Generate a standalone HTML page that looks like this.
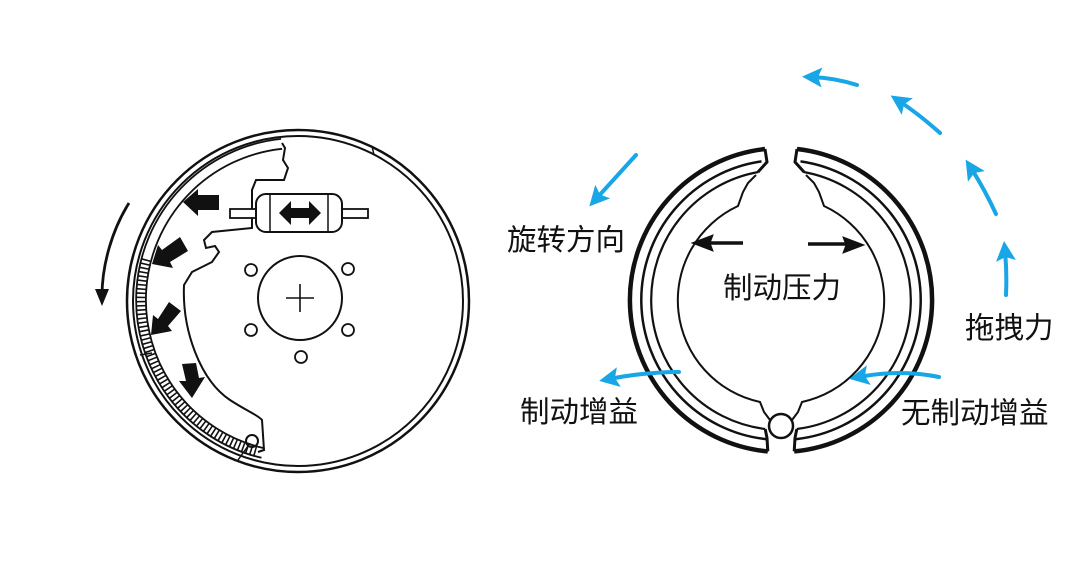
<!DOCTYPE html>
<html><head><meta charset="utf-8"><style>
html,body{margin:0;padding:0;background:#fff;}
svg{display:block;}
text{font-family:"Liberation Sans","Noto Sans CJK SC",sans-serif;font-size:29.5px;fill:#111;}
</style></head><body>
<svg width="1080" height="572" viewBox="0 0 1080 572" xmlns="http://www.w3.org/2000/svg">
<defs>
<marker id="bh" viewBox="0 0 10 10" refX="5" refY="5" markerWidth="5" markerHeight="5" orient="auto"><path d="M0,0 L10,5 L0,10 L2,5 z" fill="#18a6e6"/></marker>
</defs>
<g fill="none" stroke="#111">
<circle cx="298" cy="301" r="171" stroke-width="2.5"/>
<circle cx="298" cy="301" r="165" stroke-width="2"/>
<line x1="372" y1="146" x2="374" y2="155" stroke-width="1.5"/>
<path d="M281.1,138.9 A162 162 0 0 0 261.5,457.8" stroke-width="1.8"/>
<path d="M282.1,148.8 A152 152 0 0 0 263.8,448.1" stroke-width="1.8"/>
<path d="M146.3,259.3 A157 157 0 0 0 257.3,451.7" stroke-width="9" stroke-dasharray="1.6 2.6"/>
<line x1="140" y1="355" x2="152" y2="353" stroke-width="1.5"/>
<path d="M282,143 L285,148 L283,160 L288,168 L284,180 L256,180 L252,190 L252,228 L212,232 L204,240 L206,248 L215,246 L219,252 L212,262 L192,272 L184,285 C182,330 200,380 230,400 C245,410 258,415 262,420 L264,450 L258,452" stroke-width="2"/>
<circle cx="252" cy="441" r="6" stroke-width="2"/>
<line x1="248" y1="446" x2="238" y2="460" stroke-width="1.5"/>
<circle cx="300" cy="298" r="42" stroke-width="2"/>
<line x1="300" y1="284" x2="300" y2="312" stroke-width="1.6"/>
<line x1="286" y1="298" x2="314" y2="298" stroke-width="1.6"/>
<circle cx="251" cy="270" r="6" stroke-width="1.8"/>
<circle cx="348" cy="269" r="6" stroke-width="1.8"/>
<circle cx="251" cy="330" r="6" stroke-width="1.8"/>
<circle cx="348" cy="330" r="6" stroke-width="1.8"/>
<circle cx="301" cy="357" r="6" stroke-width="1.8"/>
<rect x="230" y="209" width="32" height="9" fill="#fff" stroke-width="1.8"/>
<rect x="334" y="209" width="34" height="9" fill="#fff" stroke-width="1.8"/>
<rect x="256" y="194" width="86" height="38" rx="10" fill="#fff" stroke-width="2"/>
<line x1="270" y1="195" x2="270" y2="231" stroke-width="1.5"/>
<line x1="328" y1="195" x2="328" y2="231" stroke-width="1.5"/>
<path d="M129,203 C112,230 102,265 102,296" stroke-width="2.8"/>
</g>
<g fill="#111">
<polygon points="279,213 291,201 291,208 309,208 309,201 321,213 309,225 309,218 291,218 291,225"/>
<polygon points="95,289 109,289 102,306"/>
<polygon points="183,202 198,189 198,195 219,195 219,210 198,210 198,216"/>
<polygon points="152,264 158,245 162,250 180,237 188,251 170,262 173,268"/>
<polygon points="151,335 153,315 158,319 169,302 181,311 168,326 172,331"/>
<polygon points="192,398 179,381 186,381 182,364 196,363 199,378 205,377"/>
</g>
<g id="shoe" fill="none" stroke="#111">
<path d="M765,149 A152 152 0 0 0 767.8,451.4" stroke-width="4.5"/>
<path d="M761.5,161.4 A140 140 0 0 0 766.4,439.2" stroke-width="2.5"/>
<path d="M758.4,172 A130 130 0 0 0 765.2,429" stroke-width="2.2"/>
<path d="M765,149 L767,162 L758,172" stroke-width="3"/>
<path d="M767.8,451.4 L767,438 L765.2,429" stroke-width="3"/>
<path d="M756,175 L748,183 L743,192 L738,206 A104 104 0 0 0 760,402 L764,412 L770,420" stroke-width="2"/>
</g>
<use href="#shoe" transform="translate(1562,0) scale(-1,1)"/>
<circle cx="781" cy="426" r="12" fill="#fff" stroke="#111" stroke-width="2.5"/>
<g stroke="#111" stroke-width="3.5" fill="#111">
<line x1="743" y1="243" x2="705" y2="243"/>
<line x1="808" y1="244" x2="850" y2="244"/>
<polygon points="692,243 713,235 710,243 713,251" stroke-width="1"/>
<polygon points="864,245 843,237 846,245 843,253" stroke-width="1"/>
</g>
<g stroke="#18a6e6" stroke-width="4" fill="none" stroke-linecap="round" marker-end="url(#bh)">
<path d="M636,155 Q615,178 596,199"/>
<path d="M857,85 Q835,78 812,77"/>
<path d="M940,133 Q920,115 899,101"/>
<path d="M996,214 Q985,190 971,168"/>
<path d="M1006,295 Q1007,272 1005,251"/>
<path d="M679,372 Q645,372 609,379"/>
<path d="M939,377 Q900,369 859,377"/>
</g>
<text x="507" y="250">旋转方向</text>
<text x="723" y="298">制动压力</text>
<text x="965" y="338">拖拽力</text>
<text x="520" y="422">制动增益</text>
<text x="901" y="423">无制动增益</text>
</svg>
</body></html>
